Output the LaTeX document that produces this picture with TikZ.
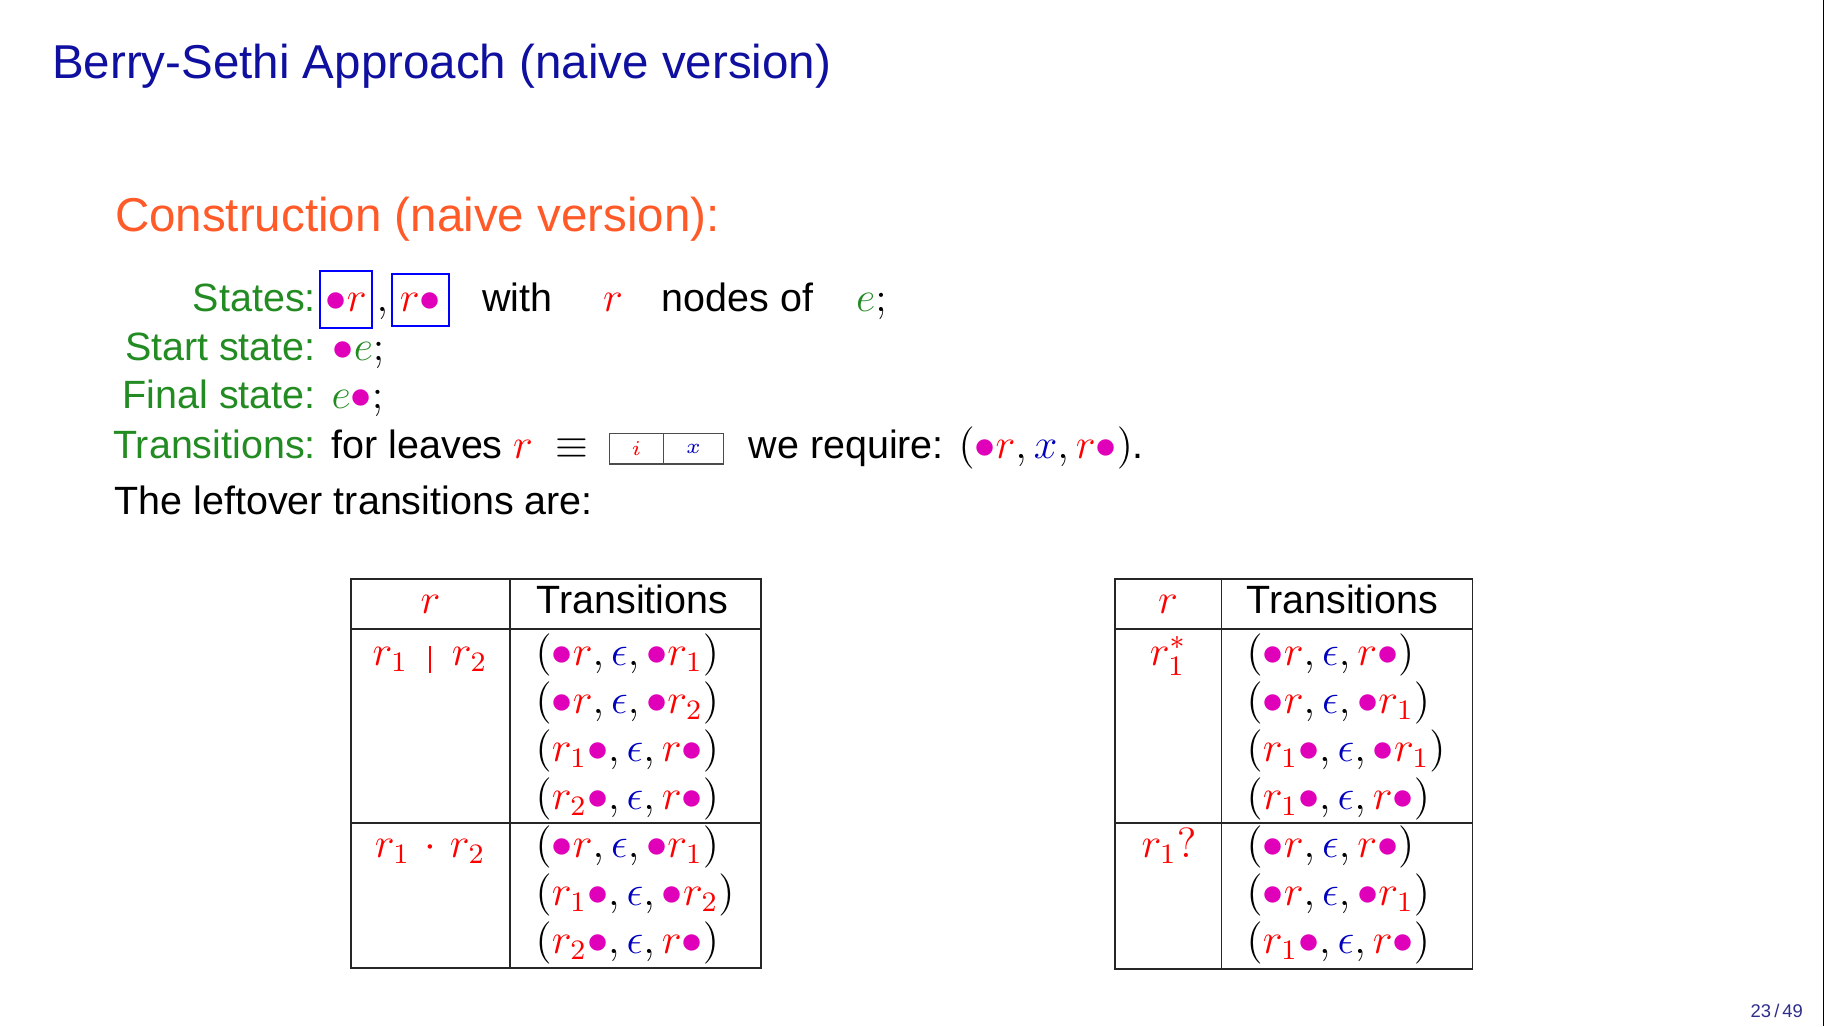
\documentclass[tikz,border=0pt]{standalone}
\usepackage[no-math]{fontspec}
\setmainfont{Liberation Sans}[Scale=0.935]
\usepackage{amsmath}
\usepackage{amssymb}

\definecolor{bstitle}{RGB}{15,15,160}
\definecolor{bsorange}{RGB}{255,90,40}
\definecolor{bsgreen}{RGB}{34,139,34}
\definecolor{bsmag}{RGB}{225,0,185}
\definecolor{bseps}{RGB}{0,0,190}
\definecolor{bspage}{RGB}{45,45,140}

\newcommand{\bodyfont}{\fontsize{12}{14.4}\selectfont}
\newcommand{\titlefont}{\fontsize{14.45}{17}\selectfont}
\newcommand{\mgdot}{\textcolor{bsmag}{\bullet}}
\newcommand{\rdm}[1]{\textcolor{red}{#1}}
\newcommand{\epsb}{\textcolor{bseps}{\epsilon}}

\tikzset{
  txt/.style={anchor=base west, inner sep=0pt, font=\bodyfont},
  lbl/.style={anchor=base east, inner sep=0pt, font=\bodyfont, text=bsgreen},
  cellc/.style={anchor=base, inner sep=0pt, font=\bodyfont},
  statebox/.style={draw=blue, line width=0.6pt, inner sep=0pt, anchor=base, font=\bodyfont},
  leafcell/.style={draw=black!70, line width=0.4pt, inner sep=0pt, minimum height=0.307cm, font=\fontsize{6.5}{7}\selectfont},
  tabline/.style={line width=0.5pt, draw=black!85}
}

\begin{document}
\begin{tikzpicture}[x=0.01cm,y=-0.01cm]
    \useasboundingbox (0,0) rectangle (1824,1026);
    \fill[white] (0,0) rectangle (1824,1026);
    \draw[line width=0.35pt] (1823.3,0) -- (1823.3,1026);

    % headings
    \node[txt, text=bstitle, font=\titlefont] (title) at (51.5,78.3) {Berry-Sethi Approach (naive version)};
    \node[txt, text=bsorange, font=\titlefont] (constr) at (114.3,231.7) {Construction (naive version):};

    % states
    \node[lbl] (states) at (316.5,311.7) {States:};
    \node[statebox, minimum width=0.523cm, text height=0.407cm, text depth=0.16cm] (sdot) at (346.2,311.7) {$\mgdot\rdm{r}$};
    \node[txt] (scomma) at (376,311.7) {$,$};
    \node[statebox, minimum width=0.567cm, text height=0.377cm, text depth=0.14cm] (sfin) at (420.4,311.7) {$\rdm{r}\mgdot$};
    \node[txt] (with) at (481.7,311.7) {with};
    \node[txt] (rnode) at (602.5,311.7) {$\rdm{r}$};
    \node[txt] (nodesof) at (661,311.7) {nodes of};
    \node[txt] (enode) at (855.5,311.7) {$\textcolor{bsgreen}{e};$};

    \node[lbl] (start) at (316.5,360) {Start state:};
    \node[txt] (startv) at (332,360) {$\mgdot\textcolor{bsgreen}{e};$};
    \node[lbl] (final) at (316.5,408.3) {Final state:};
    \node[txt] (finalv) at (331,408.3) {$\textcolor{bsgreen}{e}\mgdot;$};

    % leaves
    \node[lbl] (trans) at (316.5,458.3) {Transitions:};
    \node[txt] (leaves) at (331,458.3) {for leaves};
    \node[txt] (rleaf) at (512.5,458.3) {$\rdm{r}$};
    \node[txt] (equiv) at (554.5,458.3) {$\equiv$};
    \node[leafcell, minimum width=0.54cm] (li) at (636.3,448.65) {$\rdm{i}$};
    \node[leafcell, minimum width=0.604cm] (lx) at (693.5,448.65) {$\textcolor{bseps}{x}$};
    \node[txt] (require) at (748,458.3) {we require: $(\mgdot\rdm{r}, \textcolor{bseps}{x}, \rdm{r}\mgdot)$.};

    \node[txt] (leftover) at (114,514) {The leftover transitions are:};

    % left table
    \draw[tabline] (351,579.3) rectangle (760.7,968.3);
    \draw[tabline] (510,579.3) -- (510,968.3);
    \draw[tabline] (351,629) -- (760.7,629);
    \draw[tabline] (351,822.7) -- (760.7,822.7);
    \node[cellc] (lhr) at (430.5,613.3) {$\rdm{r}$};
    \node[txt] (lht) at (536,613.3) {Transitions};
    \node[cellc] (lalt) at (430,665) {$\rdm{r_1 \mskip9mu\rule[-0.2em]{0.045em}{0.67em}\mskip9mu r_2}$};
    \node[cellc] (lcat) at (430,857) {$\rdm{r_1 \mskip2mu\cdot\mskip2mu r_2}$};
    \node[txt] (lt1) at (535,665) {$(\mgdot\rdm{r}, \epsb, \mgdot\rdm{r_1})$};
    \node[txt] (lt2) at (535,713) {$(\mgdot\rdm{r}, \epsb, \mgdot\rdm{r_2})$};
    \node[txt] (lt3) at (535,761) {$(\rdm{r_1}\mgdot, \epsb, \rdm{r}\mgdot)$};
    \node[txt] (lt4) at (535,809) {$(\rdm{r_2}\mgdot, \epsb, \rdm{r}\mgdot)$};
    \node[txt] (lt5) at (535,857) {$(\mgdot\rdm{r}, \epsb, \mgdot\rdm{r_1})$};
    \node[txt] (lt6) at (535,905) {$(\rdm{r_1}\mgdot, \epsb, \mgdot\rdm{r_2})$};
    \node[txt] (lt7) at (535,953) {$(\rdm{r_2}\mgdot, \epsb, \rdm{r}\mgdot)$};

    % right table
    \draw[tabline] (1115,579.3) rectangle (1472.6,968.7);
    \draw[tabline] (1221.4,579.3) -- (1221.4,968.7);
    \draw[tabline] (1115,629) -- (1472.6,629);
    \draw[tabline] (1115,823) -- (1472.6,823);
    \node[cellc] (rhr) at (1168,613.3) {$\rdm{r}$};
    \node[txt] (rht) at (1246,613.3) {Transitions};
    \node[cellc] (rstar) at (1168,665) {$\rdm{r_1^*}$};
    \node[cellc] (ropt) at (1169,857) {$\rdm{r_1?}$};
    \node[txt] (rt1) at (1246,665) {$(\mgdot\rdm{r}, \epsb, \rdm{r}\mgdot)$};
    \node[txt] (rt2) at (1246,713) {$(\mgdot\rdm{r}, \epsb, \mgdot\rdm{r_1})$};
    \node[txt] (rt3) at (1246,761) {$(\rdm{r_1}\mgdot, \epsb, \mgdot\rdm{r_1})$};
    \node[txt] (rt4) at (1246,809) {$(\rdm{r_1}\mgdot, \epsb, \rdm{r}\mgdot)$};
    \node[txt] (rt5) at (1246,857) {$(\mgdot\rdm{r}, \epsb, \rdm{r}\mgdot)$};
    \node[txt] (rt6) at (1246,905) {$(\mgdot\rdm{r}, \epsb, \mgdot\rdm{r_1})$};
    \node[txt] (rt7) at (1246,953) {$(\rdm{r_1}\mgdot, \epsb, \rdm{r}\mgdot)$};

    \node[txt, font=\fontsize{5.6}{6}\selectfont, text=bspage] (pageno) at (1750,1017.7) {23\,/\,49};
\end{tikzpicture}
\end{document}
